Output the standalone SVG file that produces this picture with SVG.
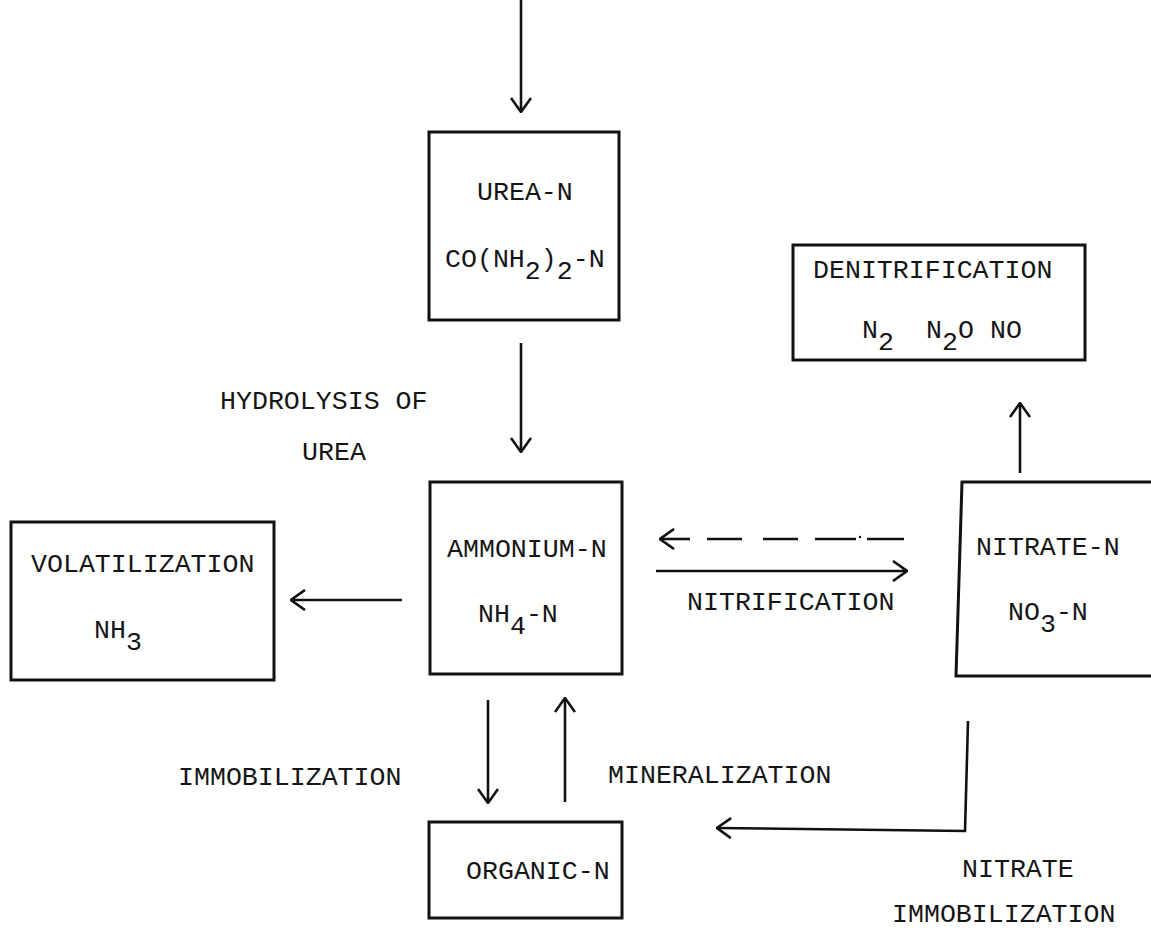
<svg xmlns="http://www.w3.org/2000/svg" width="1151" height="933" viewBox="0 0 1151 933">
<style>
  .box { fill: none; stroke: #111; stroke-width: 3; }
  .ln { fill: none; stroke: #111; stroke-width: 2.6; }
  .t { font-family: "Liberation Mono", "Courier New", monospace; font-size: 26.6px; fill: #151515; }
</style>
<defs>
  <marker id="ah" markerUnits="userSpaceOnUse" viewBox="-1 -1 16 22" refX="14" refY="10" markerWidth="16" markerHeight="22" orient="auto">
    <path d="M0,0 L14,10 L0,20" fill="none" stroke="#111" stroke-width="2.6"/>
  </marker>
</defs>
<rect width="1151" height="933" fill="#fff"/>

<g id="urea">
  <rect class="box" x="429" y="132" width="190" height="188"/>
  <text class="t" x="477" y="200">UREA-N</text>
  <text class="t" x="445" y="267">CO(NH<tspan dy="12">2</tspan><tspan dy="-12">)</tspan><tspan dy="12">2</tspan><tspan dy="-12">-N</tspan></text>
</g>

<g id="denitrification">
  <rect class="box" x="793" y="245" width="292" height="115"/>
  <text class="t" x="813" y="278">DENITRIFICATION</text>
  <text class="t" x="862" y="338">N<tspan dy="12">2</tspan></text>
  <text class="t" x="926" y="338">N<tspan dy="12">2</tspan><tspan dy="-12">O</tspan></text>
  <text class="t" x="990" y="338">NO</text>
</g>

<g id="hydrolysis-label">
  <text class="t" x="220" y="409">HYDROLYSIS OF</text>
  <text class="t" x="302" y="460">UREA</text>
</g>

<g id="volatilization">
  <rect class="box" x="11" y="522" width="263" height="158"/>
  <text class="t" x="31" y="572">VOLATILIZATION</text>
  <text class="t" x="94" y="638">NH<tspan dy="12">3</tspan></text>
</g>

<g id="ammonium">
  <rect class="box" x="430" y="482" width="192" height="192"/>
  <text class="t" x="447" y="557">AMMONIUM-N</text>
  <text class="t" x="478" y="622">NH<tspan dy="12">4</tspan><tspan dy="-12">-N</tspan></text>
</g>

<g id="nitrate">
  <path class="box" d="M1160,482 L962,482 L956,676 L1160,676"/>
  <text class="t" x="976" y="555">NITRATE-N</text>
  <text class="t" x="1008" y="620">NO<tspan dy="12">3</tspan><tspan dy="-12">-N</tspan></text>
</g>

<g id="nitrification-label">
  <text class="t" x="687" y="610">NITRIFICATION</text>
</g>

<g id="immobilization-label">
  <text class="t" x="178" y="785">IMMOBILIZATION</text>
</g>

<g id="mineralization-label">
  <text class="t" x="608" y="783">MINERALIZATION</text>
</g>

<g id="organic">
  <rect class="box" x="429" y="822" width="193" height="96"/>
  <text class="t" x="466" y="879">ORGANIC-N</text>
</g>

<g id="nitrate-immobilization-label">
  <text class="t" x="962" y="877">NITRATE</text>
  <text class="t" x="892" y="922">IMMOBILIZATION</text>
</g>

<g id="connectors">
  <path class="ln" d="M521,0 L521,112" marker-end="url(#ah)"/>
  <path class="ln" d="M521,343 L521,452" marker-end="url(#ah)"/>
  <path class="ln" d="M402,600 L291,600" marker-end="url(#ah)"/>
  <path class="ln" d="M867,539 L904,539 M815,539 L856,539 M763,539 L798,539 M707,539 L742,539"/>
  <circle cx="860" cy="537" r="1.2" fill="#111"/>
  <path class="ln" d="M690,539 L660,539" marker-end="url(#ah)"/>
  <path class="ln" d="M656,571 L907,571" marker-end="url(#ah)"/>
  <path class="ln" d="M1020,473 L1020,403" marker-end="url(#ah)"/>
  <path class="ln" d="M488,700 L488,803" marker-end="url(#ah)"/>
  <path class="ln" d="M565,802 L565,698" marker-end="url(#ah)"/>
  <path class="ln" d="M968,721 L965,831 L717,828" marker-end="url(#ah)"/>
</g>
</svg>
